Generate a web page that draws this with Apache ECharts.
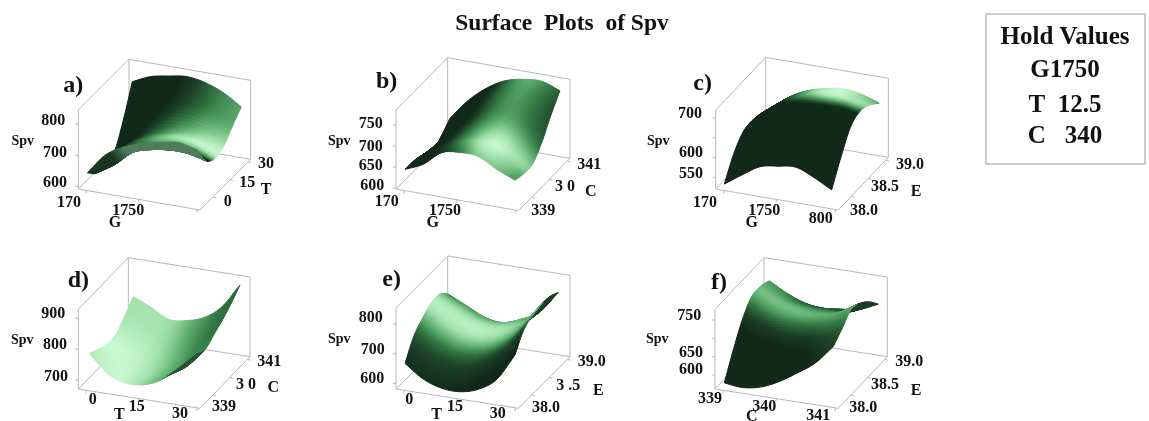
<!DOCTYPE html>
<html><head><meta charset="utf-8">
<style>html,body{margin:0;padding:0;background:#fff}#c{width:1149px;height:421px}</style>
<script src="https://cdn.jsdelivr.net/npm/echarts@6/dist/echarts.min.js"></script>
</head><body><div id="c"></div>
<script>
// ---------- values: Spv on a G/T/C/E grid (rows: back axis low -> high) ----------
const spvA = [
 [615,690,733,762,783,801,796],
 [585,630,687,714,731,738,733],
 [588,654,693,719,734,729,710],
 [596,657,697,720,730,729,720],
 [669,724,758,779,786,779,757],
 [763,797,817,833,832,818,790]];
const spvB = [
 [623,649,690,704,708,691,679],
 [622,657,684,698,706,696,673],
 [614,659,685,702,712,701,675],
 [596,672,704,728,739,735,705],
 [614,685,725,752,767,769,747],
 [636,692,735,766,783,792,783]];
const spvC = [
 [510,549,585,602,615,605,589],
 [562,601,634,654,667,664,648],
 [592,632,665,686,698,702,698],
 [596,638,671,695,708,714,712],
 [589,630,663,686,700,704,702],
 [576,619,650,671,686,688,681]];
const spvD = [
 [750,704,692,704,738,795,859],
 [733,712,698,707,733,773,844],
 [721,710,707,715,739,790,863],
 [721,713,710,723,750,804,882],
 [751,735,729,740,770,821,907],
 [786,770,750,765,794,848,937]];
const spvE = [
 [637,602,589,595,621,672,772],
 [698,665,653,659,688,742,827],
 [730,698,684,691,717,767,845],
 [752,719,703,707,731,776,853],
 [753,724,704,704,726,761,852],
 [724,703,682,682,712,754,837]];
const spvF = [
 [552,555,572,602,641,684,745],
 [616,618,633,661,695,730,769],
 [672,671,683,704,730,759,795],
 [708,700,703,713,727,747,785],
 [711,699,695,699,708,721,763],
 [701,682,671,673,686,702,731]];
const zTicksA = [800,700,600];
const zTicksB = [750,700,650,600];
const zTicksC = [700,650,600,550];
const zTicksD = [900,800,700];
const zTicksE = [800,700,600];
const zTicksF = [750,700,650,600];
const holdValues = ['Hold Values','G1750','T  12.5','C   340'];
const titleText = 'Surface  Plots  of Spv';

// ---------- layout (reference-crop units: px*3, offset per panel) ----------
const panels = [
 {spv:spvA,zt:zTicksA,off:[0,40],O:[235,447],ex:[365,63],ey:[152,-152],h:237,zr:[592,845],v:[.18,-.25,.885],L:[.15,-.2,1],lo:.72,hi:1,ku:.5,backHi:'#5f8f6b',backS:.2,
  labels:[['a)',220,138,24],['800',160,243],['700',165,338],['600',165,428],['Spv',68,305,14],['170',207,488],['1750',385,513],['G',345,548],['30',798,373],['15',742,430],['T',798,450],['0',683,487]]},
 {spv:spvB,zt:zTicksB,off:[310,40],O:[258,447],ex:[367,65],ey:[155,-157],h:237,zr:[598,786],v:[.174,-.239,.871],L:[.05,-.3,1],lo:.82,hi:1,ku:.6,backHi:'#20402a',backS:0,
  labels:[['b)',230,125,24],['750',182,253],['700',182,320],['650',182,378],['600',187,437],['Spv',88,305,14],['170',230,487],['1750',405,512],['G',368,548],['341',838,375],['3 0',765,442],['C',842,457],['339',700,512]]},
 {spv:spvC,zt:zTicksC,off:[630,40],O:[257,447],ex:[368,63],ey:[150,-158],h:237,zr:[520.6,719.7],v:[.173,-.307,.953],L:[-.15,.3,1],lo:.84,hi:1,ku:.8,backHi:'#20402a',backS:0,
  labels:[['c)',218,130,24],['700',180,222],['600',183,340],['550',183,402],['Spv',85,305,14],['170',225,488],['1750',403,512],['G',365,550],['800',572,538],['39.0',840,375],['38.5',765,442],['E',858,457],['38.0',702,512]]},
 {spv:spvD,zt:zTicksD,off:[0,240],O:[235,447],ex:[365,58],ey:[150,-155],h:239,zr:[671,929],v:[.22,-.3,.88],L:[.25,0,1],lo:-.3,hi:1,ku:1,backHi:'#2f5a3c',backS:0,
  labels:[['d)',235,122,24],['900',160,222],['800',165,315],['700',168,412],['Spv',67,300,14],['0',278,480],['15',410,502],['T',358,525],['30',540,522],['341',808,365],['3 0',738,435],['C',820,445],['339',672,500]]},
 {spv:spvE,zt:zTicksE,off:[310,240],O:[258,447],ex:[367,58],ey:[155,-155],h:244,zr:[581,855],v:[.174,-.239,.839],L:[.03,-.12,1],lo:.7,hi:.95,ku:.25,backHi:'#20402a',backS:0,
  labels:[['e)',245,118,24],['800',182,235],['700',188,330],['600',187,418],['Spv',88,298,14],['0',298,480],['15',435,502],['T',380,525],['30',563,522],['39.0',845,367],['3 .5',775,438],['E',865,452],['38.0',708,505]]},
 {spv:spvF,zt:zTicksF,off:[630,240],O:[255,447],ex:[370,58],ey:[147,-155],h:239,zr:[562,779],v:[.19,-.293,.918],L:[.03,-.1,1],lo:.72,hi:.72,ku:.25,backHi:'#20402a',backS:0,
  labels:[['f)',267,128,24],['750',178,228],['650',183,338],['600',183,390],['Spv',82,297,14],['339',240,477],['340',403,502],['C',365,530],['341',565,527],['39.0',838,367],['38.5',765,435],['E',858,452],['38.0',700,505]]}
];
const depthTicks = [.26,.6,.95];
const frontTicks = [.07,.5,.98];
const SUB = 8;
const ramp = [[0,'#12291a'],[.2,'#1c4028'],[.45,'#347a45'],[.65,'#5fae70'],[.85,'#a0e0aa'],[1,'#c8f8cf']];

// ---------- helpers ----------
const hex = c => [1,3,5].map(i => parseInt(c.substr(i,2),16));
function mix(a,b,f){const A=hex(a),B=hex(b);return 'rgb('+A.map((v,i)=>Math.round(v+(B[i]-v)*f)).join(',')+')';}
function rampColor(b){
  if(b<=ramp[0][0])return ramp[0][1];
  for(let i=1;i<ramp.length;i++){if(b<=ramp[i][0]){return mix(ramp[i-1][1],ramp[i][1],(b-ramp[i-1][0])/(ramp[i][0]-ramp[i-1][0]));}}
  return ramp[ramp.length-1][1];
}
function cr(p0,p1,p2,p3,f){return .5*((2*p1)+(-p0+p2)*f+(2*p0-5*p1+4*p2-p3)*f*f+(-p0+3*p1-3*p2+p3)*f*f*f);}
function sampleRow(a,x){
  const n=a.length-1,i=Math.min(n-1,Math.floor(x)),f=x-i;
  const g=k=>k<0?2*a[0]-a[1]:k>n?2*a[n]-a[n-1]:a[k];
  return cr(g(i-1),g(i),g(i+1),g(i+2),f);
}
function sampleZ(m,sx,ty){
  const col=m.map(r=>sampleRow(r,sx));
  return sampleRow(col,ty);
}
function boxPoint(p,u,v,w){
  return [(p.O[0]+p.ex[0]*u+p.ey[0]*v)/3+p.off[0],(p.O[1]+p.ex[1]*u+p.ey[1]*v-p.h*w)/3+p.off[1]];
}
const toW=(p,z)=>(z-p.zr[0])/(p.zr[1]-p.zr[0]);

// smoothed surface slopes at the control nodes, used only for lighting
function slopes(p){
  const m=p.spv,nr=m.length-1,nc=m[0].length-1;
  const W=m.map(r=>r.map(z=>toW(p,z)));
  const at=(j,i)=>W[Math.max(0,Math.min(nr,j))][Math.max(0,Math.min(nc,i))];
  const wu=[],wv=[];
  for(let j=0;j<=nr;j++){wu[j]=[];wv[j]=[];for(let i=0;i<=nc;i++){
    const i0=Math.max(0,i-1),i1=Math.min(nc,i+1),j0=Math.max(0,j-1),j1=Math.min(nr,j+1);
    const ds=(at(j,i1)-at(j,i0))/((i1-i0)/nc);
    const dt=(at(j1,i)-at(j0,i))/((j1-j0)/nr);
    const v=dt/p.v[2]; wv[j][i]=v; wu[j][i]=ds-v*p.v[1];
  }}
  const blur=a=>a.map((r,j)=>r.map((_,i)=>{
    let sum=0,c=0;for(let dj=-1;dj<=1;dj++)for(let di=-1;di<=1;di++){
      const jj=j+dj,ii=i+di;if(jj<0||jj>nr||ii<0||ii>nc)continue;
      const k=(dj?1:2)*(di?1:2);sum+=a[jj][ii]*k;c+=k;}
    return sum/c;}));
  return {wu:blur(wu),wv:blur(wv)};
}

// ---------- build surface quads & box lines ----------
const quads=[],lines=[];
panels.forEach((p,pi)=>{
  const m=p.spv,nc=m[0].length-1,nr=m.length-1;
  const NS=nc*SUB,NT=nr*SUB;
  const sl=slopes(p);
  const grid=[];
  for(let j=0;j<=NT;j++){grid[j]=[];for(let i=0;i<=NS;i++){
    const s=i/NS,t=j/NT,u=s,v=p.v[0]+p.v[1]*s+p.v[2]*t,z=sampleZ(m,i/SUB,j/SUB),w=toW(p,z);
    const wu=sampleZ(sl.wu,i/SUB,j/SUB),wv=sampleZ(sl.wv,i/SUB,j/SUB);
    const ku=p.ku,L=p.L,ll=Math.hypot(L[0],L[1],L[2]);
    const nl=Math.hypot(ku*wu,wv,1);
    const br=(-ku*wu*L[0]-wv*L[1]+L[2])/(nl*ll);
    grid[j][i]={xy:boxPoint(p,u,v,w),br};
  }}
  for(let j=NT-1;j>=0;j--){for(let i=0;i<NS;i++){
    const a=grid[j][i],b=grid[j][i+1],c=grid[j+1][i+1],d=grid[j+1][i];
    const br=(a.br+b.br+c.br+d.br)/4;
    const sx=((b.xy[0]+c.xy[0])-(a.xy[0]+d.xy[0]))/2,sy=((b.xy[1]+c.xy[1])-(a.xy[1]+d.xy[1]))/2;
    const tx=((c.xy[0]+d.xy[0])-(a.xy[0]+b.xy[0]))/2,ty=((c.xy[1]+d.xy[1])-(a.xy[1]+b.xy[1]))/2;
    const back=(sx*ty-sy*tx)>0?1:0;
    const lit=Math.max(0,Math.min(1,(br-p.lo)/(1-p.lo)))*p.hi;
    const backMix=.8*Math.max(0,Math.min(1,((i+.5)/NS-p.backS)/.12));
    quads.push([a.xy[0],a.xy[1],b.xy[0],b.xy[1],c.xy[0],c.xy[1],d.xy[0],d.xy[1],lit,back,pi,backMix]);
  }}
  const FLb=boxPoint(p,0,0,0),FRb=boxPoint(p,1,0,0),BRb=boxPoint(p,1,1,0),BLb=boxPoint(p,0,1,0);
  const FLt=boxPoint(p,0,0,1),BLt=boxPoint(p,0,1,1),BRt=boxPoint(p,1,1,1);
  [[FLt,FLb],[FLb,FRb],[FRb,BRb],[BRb,BLb],[BLb,FLb],[FLt,BLt],[BLt,BRt],[BLt,BLb],[BRt,BRb]]
    .forEach(l=>lines.push([l[0][0],l[0][1],l[1][0],l[1][1]]));
  p.zt.forEach(z=>{const q=boxPoint(p,0,0,toW(p,z));lines.push([q[0],q[1],q[0]-3,q[1]]);});
  depthTicks.forEach(f=>{const q=boxPoint(p,1,f,0);lines.push([q[0],q[1],q[0]+3,q[1]+1]);});
  frontTicks.forEach(f=>{const q=boxPoint(p,f,0,0);lines.push([q[0],q[1],q[0]-1,q[1]+3]);});
});

// ---------- text ----------
const ink='#111';
const fontFamily='"Liberation Serif",serif';
const txt=(s,x,y,size)=>({type:'text',x,y,silent:true,style:{text:s,x:0,y:0,fill:ink,font:'bold '+size+'px '+fontFamily,textAlign:'center',textVerticalAlign:'middle'}});
const gfx=[];
panels.forEach(p=>p.labels.forEach(l=>gfx.push(txt(l[0],l[1]/3+p.off[0],l[2]/3+p.off[1],l[3]||16))));
gfx.push(txt(titleText,562,24,23.5));
gfx.push({type:'rect',shape:{x:986,y:14,width:159,height:150},style:{fill:'none',stroke:'#bdbdbd',lineWidth:1.5}});
[38,71,106,137].forEach((y,i)=>gfx.push(txt(holdValues[i],1065,y,25)));

const chart=echarts.init(document.getElementById('c'),null,{renderer:'canvas'});
chart.setOption({
  animation:false,backgroundColor:'#fff',
  grid:{left:0,right:0,top:0,bottom:0},
  xAxis:{type:'value',min:0,max:1149,show:false},
  yAxis:{type:'value',min:0,max:421,inverse:true,show:false},
  graphic:gfx,
  series:[
   {type:'custom',coordinateSystem:'cartesian2d',clip:false,silent:true,data:lines,encode:{x:[0,2],y:[1,3]},progressive:0,z:1,
    renderItem:(_,api)=>{
      const a=api.coord([api.value(0),api.value(1)]),b=api.coord([api.value(2),api.value(3)]);
      return {type:'line',shape:{x1:a[0],y1:a[1],x2:b[0],y2:b[1]},style:{stroke:'#b8b8b8',lineWidth:1}};
    }},
   {type:'custom',coordinateSystem:'cartesian2d',clip:false,silent:true,data:quads,encode:{x:[0,2,4,6],y:[1,3,5,7]},progressive:0,z:2,
    renderItem:(_,api)=>{
      const pts=[0,2,4,6].map(k=>api.coord([api.value(k),api.value(k+1)]));
      const br=api.value(8),back=api.value(9),p=panels[api.value(10)];
      const col=back?mix('#17351f',p.backHi,api.value(11)):rampColor(br);
      return {type:'polygon',shape:{points:pts},style:{fill:col,stroke:col,lineWidth:1}};
    }}
  ]
});
</script></body></html>
